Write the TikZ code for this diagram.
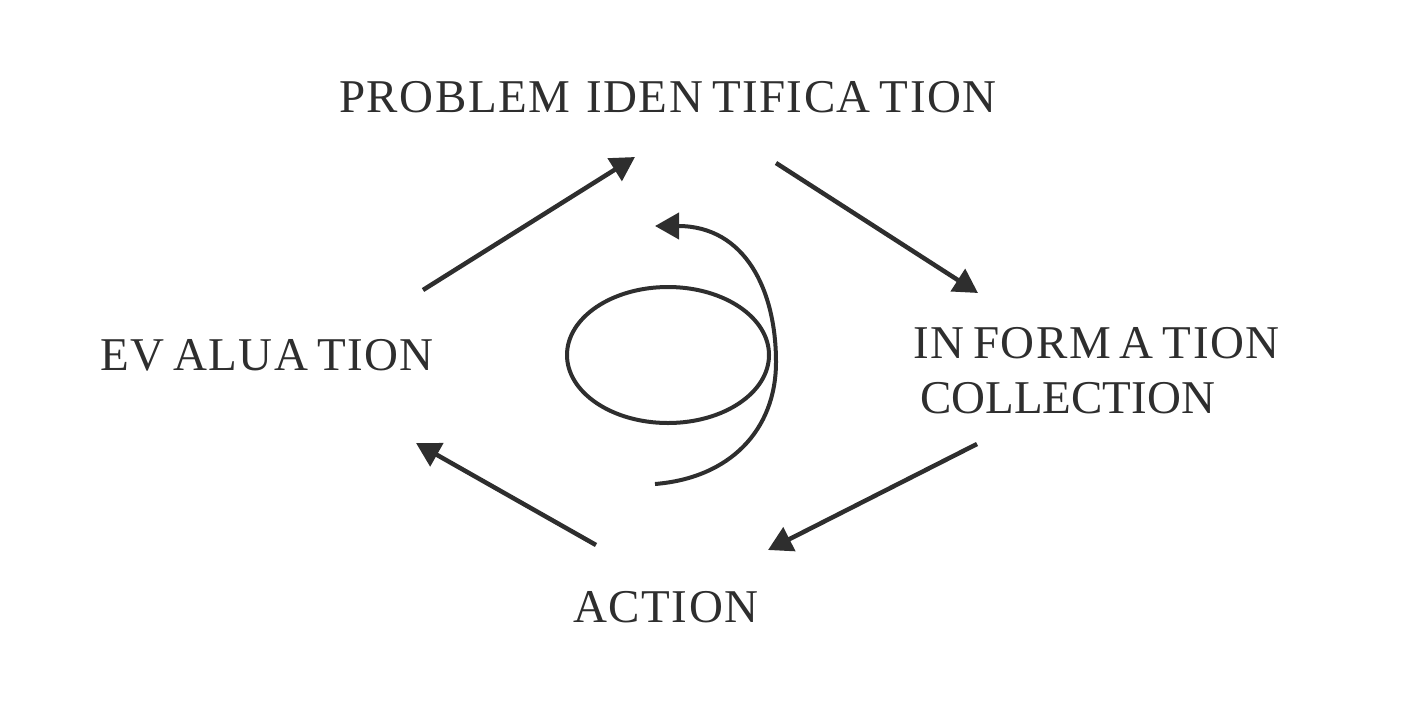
\documentclass[tikz,border=0pt]{standalone}
\usepackage{fontspec}
\setmainfont[Kerning=Off]{Liberation Serif}
\usetikzlibrary{arrows.meta}
\definecolor{ink}{HTML}{2E2E2E}
\newcommand\lk{\kern1.5pt}
\newcommand\gp{\kern9pt}
\begin{document}
\begin{tikzpicture}[x=1pt,y=-1pt,
  lbl/.style={text=ink,inner sep=0pt,font=\fontsize{47}{56}\selectfont,align=left},
  bigarrow/.style={draw=ink,line width=4.5pt,-{Triangle[length=24pt,width=26pt]}},
  spiral/.style={draw=ink,line width=4pt}]
\useasboundingbox (0,0) rectangle (1408,713);
\node[lbl] (prob) at (668,97) {P\lk R\lk O\lk B\lk L\lk E\lk M\kern16pt I\lk D\lk E\lk N\gp T\lk I\lk F\lk I\lk C\lk A\gp T\lk I\lk O\lk N};
\node[lbl] (eval) at (267,355) {E\lk V\gp A\lk L\lk U\lk A\gp T\lk I\lk O\lk N};
\node[lbl,anchor=west] (info) at (913,343) {I\lk N\gp F\lk O\lk R\lk M\gp A\gp T\lk I\lk O\lk N};
\node[lbl,anchor=west] (coll) at (920,398) {COLLECTION};
\node[lbl] (act) at (666,607) {A\lk C\lk T\lk I\lk O\lk N};
\coordinate (a1s) at (423,290); \coordinate (a1e) at (635,157);
\coordinate (a2s) at (776,163); \coordinate (a2e) at (978,293);
\coordinate (a3s) at (977,444); \coordinate (a3e) at (768,550);
\coordinate (a4s) at (596,545); \coordinate (a4e) at (416,443);
\draw[bigarrow] (a1s) -- (a1e);
\draw[bigarrow] (a2s) -- (a2e);
\draw[bigarrow] (a3s) -- (a3e);
\draw[bigarrow] (a4s) -- (a4e);
\coordinate (sc) at (668,355);
\draw[spiral] (sc) ellipse [x radius=101, y radius=68];
\coordinate (ss) at (655,484);
\coordinate (sm) at (776,362);
\coordinate (se) at (655,226);
\draw[spiral,-{Triangle[length=24pt,width=26pt]}] (ss) .. controls (730,478) and (776,430) .. (sm) .. controls (776,290) and (745,226) .. (se);
\end{tikzpicture}
\end{document}
